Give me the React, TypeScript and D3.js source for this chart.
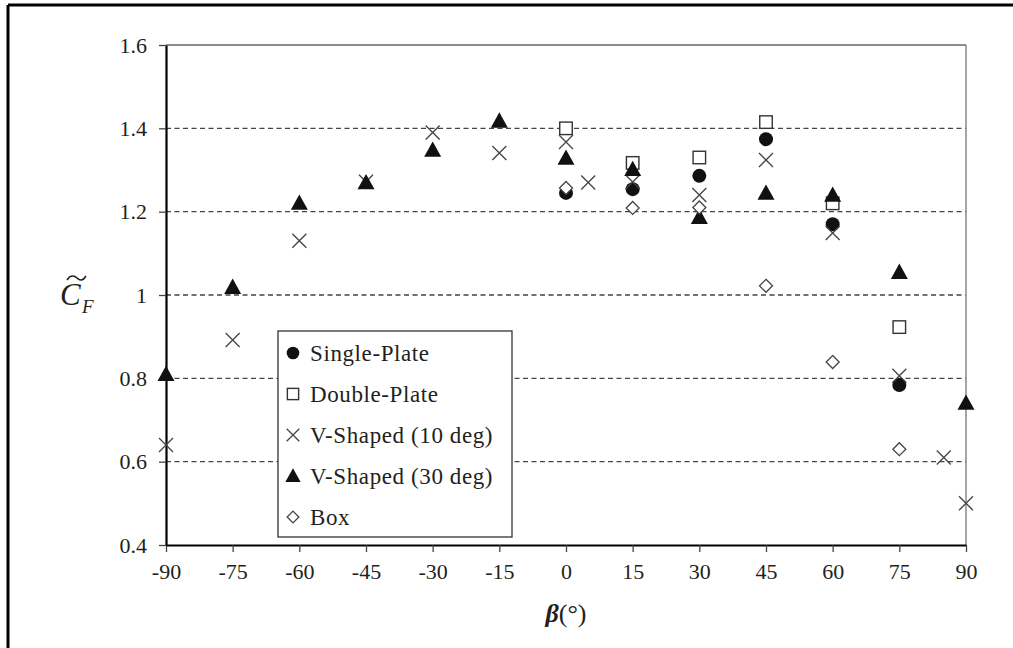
import React, { useEffect, useRef } from 'react';
import * as d3 from 'd3';

// series data (beta in degrees, CF value)
const singleBeta = [0, 15, 30, 45, 60, 75];
const singleCF = [1.245, 1.254, 1.286, 1.374, 1.17, 0.784];

const doubleBeta = [0, 15, 30, 45, 60, 75];
const doubleCF = [1.4, 1.317, 1.33, 1.415, 1.22, 0.923];

const v10Beta = [-90, -75, -60, -45, -30, -15, 0, 5, 15, 30, 45, 60, 75, 85, 90];
const v10CF = [0.64, 0.892, 1.13, 1.272, 1.39, 1.341, 1.367, 1.27, 1.271, 1.24, 1.324, 1.149, 0.806, 0.61, 0.5];

const v30Beta = [-90, -75, -60, -45, -30, -15, 0, 15, 30, 45, 60, 75, 90];
const v30CF = [0.81, 1.019, 1.221, 1.27, 1.348, 1.418, 1.329, 1.302, 1.187, 1.245, 1.24, 1.055, 0.741];

const boxBeta = [0, 15, 30, 45, 60, 75];
const boxCF = [1.257, 1.209, 1.21, 1.022, 0.839, 0.63];

const xTicks = [-90, -75, -60, -45, -30, -15, 0, 15, 30, 45, 60, 75, 90];
const yTicks = [0.4, 0.6, 0.8, 1, 1.2, 1.4, 1.6];
const gridTicks = [0.6, 0.8, 1, 1.2, 1.4];

const legendNames = ['Single-Plate', 'Double-Plate', 'V-Shaped (10 deg)', 'V-Shaped (30 deg)', 'Box'];

type Marker = 'circle' | 'square' | 'cross' | 'triangle' | 'diamond';

const App = () => {
  const svgRef = useRef<SVGSVGElement | null>(null);

  const W = 1013;
  const H = 648;
  const margin = { top: 45, right: 47, bottom: 103, left: 166 };
  const width = W - margin.left - margin.right;
  const height = H - margin.top - margin.bottom;
  const font = '"Liberation Serif", "Times New Roman", serif';
  const textColor = '#231f20';

  // draw one marker into a group
  const drawMarker = (
    g: d3.Selection<SVGGElement, unknown, null, undefined>,
    type: Marker,
    x: number,
    y: number,
    scale = 1,
  ) => {
    if (type === 'circle') {
      g.append('circle').attr('cx', x).attr('cy', y).attr('r', 7 * scale).attr('fill', '#111');
    } else if (type === 'square') {
      const s = 12.5 * scale;
      g.append('rect')
        .attr('x', x - s / 2)
        .attr('y', y - s / 2)
        .attr('width', s)
        .attr('height', s)
        .attr('fill', 'white')
        .attr('stroke', '#333')
        .attr('stroke-width', 1.4);
    } else if (type === 'cross') {
      const s = 7 * scale;
      g.append('path')
        .attr('d', `M${x - s},${y - s}L${x + s},${y + s}M${x - s},${y + s}L${x + s},${y - s}`)
        .attr('stroke', '#444')
        .attr('stroke-width', 1.3)
        .attr('fill', 'none');
    } else if (type === 'triangle') {
      const s = 8.5 * scale;
      g.append('path')
        .attr('d', `M${x},${y - s}L${x + s},${y + s * 0.8}L${x - s},${y + s * 0.8}Z`)
        .attr('fill', '#111');
    } else {
      const s = 6.5 * scale;
      g.append('path')
        .attr('d', `M${x},${y - s}L${x + s},${y}L${x},${y + s}L${x - s},${y}Z`)
        .attr('fill', 'white')
        .attr('stroke', '#444')
        .attr('stroke-width', 1.3);
    }
  };

  useEffect(() => {
    if (!svgRef.current) return;
    const svg = d3.select(svgRef.current);
    svg.selectAll('*').remove();

    // outer frame (only top and left edges visible)
    svg.append('line').attr('x1', 8).attr('x2', W).attr('y1', 5).attr('y2', 5).attr('stroke', '#000').attr('stroke-width', 3);
    svg.append('line').attr('x1', 8).attr('x2', 8).attr('y1', 5).attr('y2', H).attr('stroke', '#000').attr('stroke-width', 3);

    const chart = svg.append('g').attr('transform', `translate(${margin.left},${margin.top})`);

    const xScale = d3.scaleLinear().domain([-90, 90]).range([0, width]);
    const yScale = d3.scaleLinear().domain([0.4, 1.6]).range([height, 0]);

    // gridlines
    chart
      .selectAll('line.grid')
      .data(gridTicks)
      .enter()
      .append('line')
      .attr('class', 'grid')
      .attr('x1', 0)
      .attr('x2', width)
      .attr('y1', (d) => yScale(d))
      .attr('y2', (d) => yScale(d))
      .attr('stroke', '#444')
      .attr('stroke-width', 1.3)
      .attr('stroke-dasharray', '5,3.5');

    // top and right edges of the plot area
    chart.append('line').attr('x1', 0).attr('x2', width).attr('y1', 0).attr('y2', 0).attr('stroke', '#666').attr('stroke-width', 1.6);
    chart.append('line').attr('x1', width).attr('x2', width).attr('y1', 0).attr('y2', height).attr('stroke', '#888').attr('stroke-width', 1.5);

    // axes
    const xAxis = chart
      .append('g')
      .attr('transform', `translate(0, ${height})`)
      .call(d3.axisBottom(xScale).tickValues(xTicks).tickSize(7).tickSizeOuter(0).tickFormat((d) => String(d)));
    const yAxis = chart
      .append('g')
      .call(d3.axisLeft(yScale).tickValues(yTicks).tickSize(7).tickSizeOuter(0).tickFormat((d) => d3.format('')(+d)));

    [xAxis, yAxis].forEach((ax) => {
      ax.select('.domain').attr('stroke', '#000').attr('stroke-width', 2.2);
      ax.selectAll('.tick line').attr('stroke', '#444').attr('stroke-width', 1.3);
      ax.selectAll('.tick text').attr('font-family', font).attr('font-size', 22).attr('fill', textColor);
    });
    xAxis.selectAll('.tick text').attr('dy', '1.1em');
    yAxis.selectAll('.tick text').attr('x', -19);

    // series, drawn in legend order
    const series: { beta: number[]; cf: number[]; marker: Marker }[] = [
      { beta: singleBeta, cf: singleCF, marker: 'circle' },
      { beta: doubleBeta, cf: doubleCF, marker: 'square' },
      { beta: v10Beta, cf: v10CF, marker: 'cross' },
      { beta: v30Beta, cf: v30CF, marker: 'triangle' },
      { beta: boxBeta, cf: boxCF, marker: 'diamond' },
    ];

    series.forEach((s) => {
      const g = chart.append('g');
      s.beta.forEach((b, i) => drawMarker(g, s.marker, xScale(b), yScale(s.cf[i])));
    });

    // legend
    const legend = svg.append('g').attr('transform', 'translate(278, 331)');
    legend
      .append('rect')
      .attr('x', 0)
      .attr('y', 0)
      .attr('width', 234)
      .attr('height', 206)
      .attr('fill', 'white')
      .attr('stroke', '#333')
      .attr('stroke-width', 1.3);
    legendNames.forEach((name, i) => {
      const y = 22 + i * 41;
      const lg = legend.append('g');
      drawMarker(lg, series[i].marker, 15, y, 0.9);
      lg.append('text')
        .attr('x', 32)
        .attr('y', y)
        .attr('dy', '0.35em')
        .attr('font-family', font)
        .attr('font-size', 23)
        .attr('letter-spacing', 0.6)
        .attr('fill', textColor)
        .text(name);
    });

    // y axis label: C with tilde, subscript F
    const yl = svg.append('g').attr('transform', 'translate(60, 305)');
    yl.append('text')
      .attr('font-family', font)
      .attr('font-size', 31)
      .attr('font-style', 'italic')
      .attr('fill', textColor)
      .text('C');
    yl.append('text')
      .attr('x', 22)
      .attr('y', 8)
      .attr('font-family', font)
      .attr('font-size', 19)
      .attr('font-style', 'italic')
      .attr('fill', textColor)
      .text('F');
    // tilde drawn as a small curve above the C
    yl.append('path')
      .attr('d', 'M7,-25 C10,-30 14,-30 17,-27 S23,-24 26,-29')
      .attr('fill', 'none')
      .attr('stroke', textColor)
      .attr('stroke-width', 1.6);

    // x axis label
    const xl = svg
      .append('text')
      .attr('x', margin.left + xScale(0))
      .attr('y', 622)
      .attr('text-anchor', 'middle')
      .attr('font-family', font)
      .attr('font-size', 26)
      .attr('fill', textColor);
    xl.append('tspan').attr('font-style', 'italic').attr('font-weight', 'bold').text('β');
    xl.append('tspan').text('(°)');
  }, []);

  return (
    <svg
      ref={svgRef}
      width={W}
      height={H}
      style={{ position: 'absolute', left: 0, top: 0, background: 'white' }}
    />
  );
};

export default App;
